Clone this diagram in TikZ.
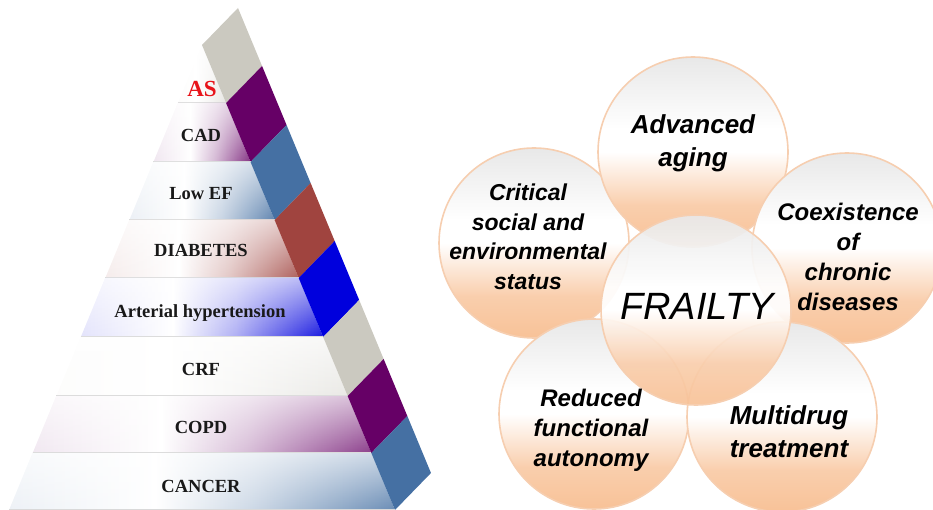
\documentclass[tikz,border=0pt]{standalone}
\usepackage{fontspec}
\setmainfont{Liberation Serif}
\newfontfamily\arialf{Liberation Sans}
\usetikzlibrary{fadings}
\definecolor{sgray}{RGB}{203,201,192}
\definecolor{spurple}{RGB}{102,0,102}
\definecolor{ssteel}{RGB}{69,112,163}
\definecolor{sred}{RGB}{160,68,63}
\definecolor{sblue}{RGB}{0,0,221}
\definecolor{peach}{RGB}{248,194,152}
\definecolor{cgray}{RGB}{232,232,232}
\definecolor{cline}{RGB}{246,206,176}
\definecolor{asred}{RGB}{232,20,26}
\tikzfading[name=fadedown, top color=transparent!0, bottom color=transparent!100]
\pgfdeclareverticalshading{circshade}{100bp}{color(0bp)=(peach); color(25bp)=(peach); color(36bp)=(peach!80!white); color(50bp)=(white); color(56bp)=(white); color(75bp)=(cgray); color(100bp)=(cgray)}
\tikzset{
  bandtxt/.style={anchor=base, font=\bfseries\fontsize{18.5}{20}\selectfont, text=black!90},
  circ/.style={circle, minimum size=190pt, inner sep=0pt, draw=cline, line width=1.6pt,
     shading=circshade},
  ctxt/.style={align=center, text=black},
  sep/.style={draw=black!15, line width=1.2pt}
}
\begin{document}
\begin{tikzpicture}[x=1pt,y=-1pt]
\useasboundingbox (0,0) rectangle (933,510);
\clip (0,0) rectangle (933,510);
% ---------- pyramid ----------
\foreach \ya/\yb/\c/\str in {45/103/sgray/45, 103/162/spurple/80, 162/220/ssteel/85, 220/278/sred/85, 278/337/sblue/90, 337/396/sgray/40, 396/453/spurple/75, 453/510/ssteel/80}{
  \pgfmathsetmacro\la{202-0.415*(\ya-45)}
  \pgfmathsetmacro\ra{202+0.415*(\ya-45)}
  \pgfmathsetmacro\lb{202-0.415*(\yb-45)}
  \pgfmathsetmacro\rb{202+0.415*(\yb-45)}
  \colorlet{bandc}{\c!\str!white}
  \pgfdeclarehorizontalshading{bandshade\ya}{100bp}{color(0bp)=(bandc!12!white); color(25bp)=(bandc!12!white); color(44bp)=(white); color(57bp)=(bandc!35!white); color(75bp)=(bandc); color(100bp)=(bandc)}
  \shade[shading=bandshade\ya]
    (\la,\ya) -- (\ra,\ya) -- (\rb,\yb) -- (\lb,\yb) -- cycle;
  \fill[white, path fading=fadedown, opacity=0.65]
    (\la,\ya) -- (\ra,\ya) -- (\rb,\yb) -- (\lb,\yb) -- cycle;
  \fill[\c] (\ra,\ya) -- ++(36,-37) -- ++(\rb-\ra,\yb-\ya) -- (\rb,\yb) -- cycle;
  \draw[sep] (\lb,\yb) -- (\rb,\yb);
}
\node[bandtxt, text=asred, font=\bfseries\fontsize{23}{24}\selectfont] (as) at (202,97) {AS};
\node[bandtxt] (cad) at (201,142) {CAD};
\node[bandtxt] (lowef) at (201,200) {Low EF};
\node[bandtxt] (diab) at (201,257) {DIABETES};
\node[bandtxt] (aht) at (200,317) {Arterial hypertension};
\node[bandtxt] (crf) at (201,375) {CRF};
\node[bandtxt] (copd) at (201,433) {COPD};
\node[bandtxt] (cancer) at (201,492) {CANCER};
% ---------- circles ----------
\node[circ] (crit) at (534,243) {};
\node[circ] (adv) at (693,152) {};
\node[circ] (coex) at (847,248) {};
\node[circ] (red) at (594,414) {};
\node[circ] (multi) at (782,417) {};
\node[circ, fill opacity=0.93] (frail) at (696,310) {};
\node[ctxt, font=\arialf\bfseries\itshape\fontsize{26}{33}\selectfont] (tadv) at (693,143) {Advanced\\aging};
\node[ctxt, font=\arialf\bfseries\itshape\fontsize{23}{29.5}\selectfont] (tcrit) at (528,237) {Critical\\social and\\environmental\\status};
\node[ctxt, font=\arialf\bfseries\itshape\fontsize{24}{30}\selectfont] (tcoex) at (848,257) {Coexistence\\of\\chronic\\diseases};
\node[ctxt, font=\arialf\bfseries\itshape\fontsize{24}{30}\selectfont] (tred) at (591,430) {Reduced\\functional\\autonomy};
\node[ctxt, font=\arialf\bfseries\itshape\fontsize{26}{33}\selectfont] (tmulti) at (789,432) {Multidrug\\treatment};
\node[ctxt, font=\arialf\itshape\fontsize{38}{42}\selectfont] (tfrail) at (697,306) {FRAILTY};
\end{tikzpicture}
\end{document}
